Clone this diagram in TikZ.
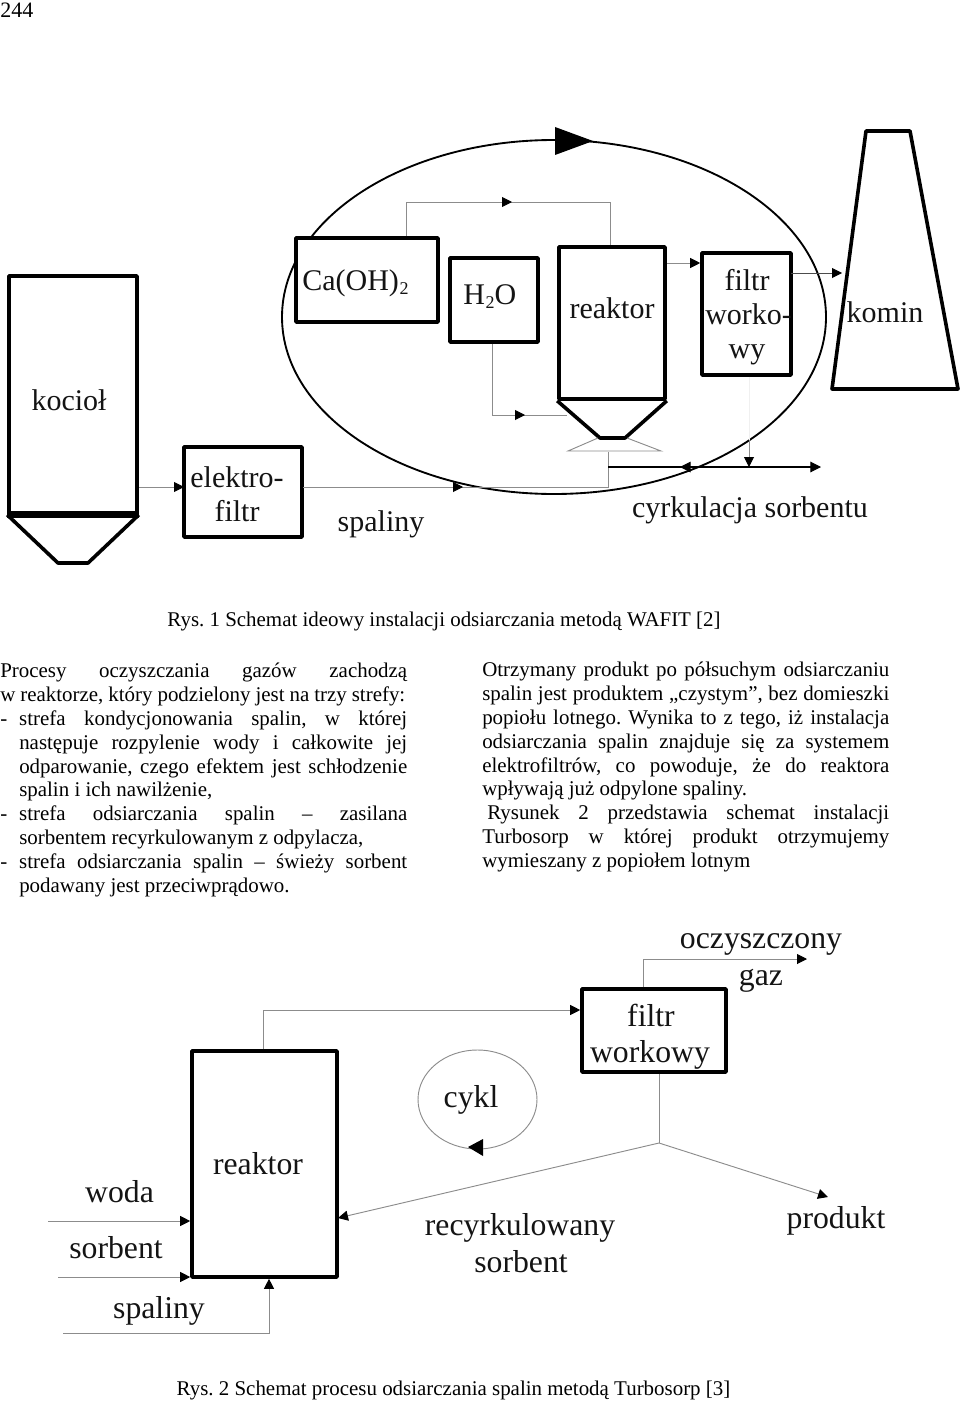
\documentclass[tikz,border=0pt]{standalone}
\usepackage{fontspec}
\setmainfont{Liberation Serif}
\usetikzlibrary{arrows.meta,fit,shapes.geometric}
\newcommand{\bigfont}{\fontsize{22.5}{27}\selectfont}
\newcommand{\largefont}{\fontsize{23.8}{28}\selectfont}
\newcommand{\bodyfont}{\fontsize{15.7}{18}\selectfont\frenchspacing}
\newcommand{\subtwo}{\hspace{0.6pt}\raisebox{-3pt}{\fontsize{13.5}{14}\selectfont 2}}
% justified line of text: name, left x, baseline y, width in px, text
\newcommand{\jline}[5]{\node[bodytext,anchor=base west] (#1) at (#2,#3) {\makebox[\dimexpr#4pt*3/4\relax][s]{#5}};}
\newcommand{\pline}[4]{\node[bodytext,anchor=base west] (#1) at (#2,#3) {#4};}
\newcommand{\dashgap}{-\hspace{9pt}}
\tikzset{
  heavy/.style={draw=black,line width=2.7pt,line join=round},
  heavybox/.style={heavy,fill=white,rectangle,inner sep=0pt},
  conn/.style={draw=black!45,line width=0.7pt},
  conntip/.style={conn,-{Triangle[length=7.5pt,width=7.5pt,fill=black,color=black]}},
  darkconn/.style={draw=black,line width=0.8pt},
  darktip/.style={darkconn,-{Triangle[length=8pt,width=8pt]}},
  bigtext/.style={font=\bigfont,inner sep=0pt,text=black!92},
  largetext/.style={font=\largefont,inner sep=0pt,text=black!92},
  bodytext/.style={font=\bodyfont,inner sep=0pt,text=black},
}
\begin{document}
\begin{tikzpicture}[x=0.75pt,y=-0.75pt]
\useasboundingbox (0,0) rectangle (960,1402);
\node[font=\fontsize{16.5}{20}\selectfont,inner sep=0pt,anchor=base west] (page) at (0,18) {244};

% ===== Figure 1 =====
\node[draw=black,line width=1.4pt,ellipse,inner sep=0pt,minimum width=408pt,minimum height=265.5pt] (loop) at (554,317) {};
\coordinate (topA) at (555,127); \coordinate (topB) at (555,155); \coordinate (topC) at (593,141);
\fill (topA) -- (topC) -- (topB) -- cycle;

\node[heavybox,fit={(9,276)(137,513)}] (kociol) {};
\node[heavybox,fit={(184,447)(302,537)}] (elektro) {};
\node[heavybox,fit={(296,238)(438,322)}] (caoh) {};
\node[heavybox,fit={(450,258)(538,342)}] (hto) {};
\node[heavybox,fit={(559,247)(665,399)}] (reak) {};
\node[heavybox,fit={(702,253)(791,375)}] (filtr) {};

% hoppers and chimney
\draw[heavy,line width=4.5pt] (kociol.south west) -- (kociol.south east);
\coordinate (kh1) at (58,563); \coordinate (kh2) at (88,563);
\draw[heavy] (kociol.south west) -- (kh1) -- (kh2) -- (kociol.south east);
\coordinate (rh1) at (600,438); \coordinate (rh2) at (625,438);
\draw[heavy] (reak.south west) -- (rh1) -- (rh2) -- (reak.south east);
\coordinate (kn1) at (866,131); \coordinate (kn2) at (910,131);
\coordinate (kn3) at (958,389); \coordinate (kn4) at (832,389);
\draw[heavy] (kn1) -- (kn2) -- (kn3) -- (kn4) -- cycle;

% thin connectors of figure 1
\coordinate (c1) at (139,487); \coordinate (c2) at (184,487);
\draw[conntip] (c1) -- (c2);
\coordinate (c3) at (303,487); \coordinate (c4) at (463,487); \coordinate (c5) at (608,487); \coordinate (c6) at (608,452);
\draw[conn] (c3) -- (c5) -- (c6);
\draw[conntip] (c3) -- (c4);
\coordinate (d1) at (406,202); \coordinate (d2) at (512,202); \coordinate (d3) at (610,202);
\draw[conn] (caoh.north -| d1) -- (d1) -- (d3) -- (reak.north -| d3);
\draw[conntip] (d1) -- (d2);
\coordinate (e1) at (492,415); \coordinate (e2) at (525,415); \coordinate (e3) at (567,415);
\draw[conn] (hto.south -| e1) -- (e1) -- (e3);
\draw[conntip] (e1) -- (e2);
\coordinate (f1) at (667,263);
\draw[conntip] (f1) -- (filtr.west |- f1);
\coordinate (g1) at (791,273); \coordinate (g2) at (842,273);
\draw[conntip,draw=black!70] (g1) -- (g2);
\coordinate (t1) at (568,451); \coordinate (t2) at (661,451); \coordinate (t3) at (627,438); \coordinate (t4) at (598,438);
\draw[conn] (t4) -- (t1) -- (t2) -- (t3);
\coordinate (h1) at (608,467); \coordinate (h2) at (821,467); \coordinate (h3) at (680,467); \coordinate (h4) at (700,467);
\draw[darktip] (h1) -- (h2);
\draw[darktip] (h4) -- (h3);
\coordinate (i1) at (749,440); \coordinate (i2) at (749,467);
\draw[draw=black!6,line width=0.7pt] (filtr.south -| i1) -- (i1);
\draw[conntip] (i1) -- (i2);

% labels of figure 1
\node[bigtext,anchor=base] (tkociol) at (69,410) {kocioł};
\node[bigtext,anchor=base] (telek1) at (237,487) {elektro-};
\node[bigtext,anchor=base] (telek2) at (237,521) {filtr};
\node[bigtext,anchor=base] (tspal) at (381,531) {spaliny};
\node[bigtext,anchor=base west] (tcaoh) at (302,290) {Ca(OH)\subtwo};
\node[bigtext,anchor=base west] (thto) at (463,304) {H\subtwo O};
\node[bigtext,anchor=base] (treak) at (612,318) {reaktor};
\node[bigtext,anchor=base] (tfil1) at (747,290) {filtr};
\node[bigtext,anchor=base west] (tfil2) at (705,324) {worko-};
\node[bigtext,anchor=base] (tfil3) at (747,358) {wy};
\node[bigtext,anchor=base] (tkomin) at (885,322) {komin};
\node[bigtext,anchor=base] (tcyrk) at (750,517) {cyrkulacja sorbentu};
\node[bodytext,anchor=base] (cap1) at (444,626) {Rys. 1 Schemat ideowy instalacji odsiarczania metodą WAFIT [2]};

% ===== Body text =====
\jline{a1}{0}{677}{407}{Procesy oczyszczania gazów zachodzą}
\jline{a2}{0}{701}{405}{w reaktorze, który podzielony jest na trzy strefy:}
\jline{a3}{0}{725}{407}{\dashgap strefa kondycjonowania spalin, w której}
\jline{a4}{19}{749}{388}{następuje rozpylenie wody i całkowite jej}
\jline{a5}{19}{773}{388}{odparowanie, czego efektem jest schłodzenie}
\pline{a6}{19}{796}{spalin i ich nawilżenie,}
\jline{a7}{0}{820}{407}{\dashgap strefa odsiarczania spalin – zasilana}
\pline{a8}{19}{844}{sorbentem recyrkulowanym z odpylacza,}
\jline{a9}{0}{868}{407}{\dashgap strefa odsiarczania spalin – świeży sorbent}
\pline{a10}{19}{892}{podawany jest przeciwprądowo.}

\jline{b1}{482}{676}{407}{Otrzymany produkt po półsuchym odsiarczaniu}
\jline{b2}{482}{700}{407}{spalin jest produktem „czystym”, bez domieszki}
\jline{b3}{482}{724}{407}{popiołu lotnego. Wynika to z tego, iż instalacja}
\jline{b4}{482}{748}{407}{odsiarczania spalin znajduje się za systemem}
\jline{b5}{482}{772}{407}{elektrofiltrów, co powoduje, że do reaktora}
\pline{b6}{482}{795}{wpływają już odpylone spaliny.}
\jline{b7}{487}{819}{402}{Rysunek 2 przedstawia schemat instalacji}
\jline{b8}{482}{843}{407}{Turbosorp w której produkt otrzymujemy}
\pline{b9}{482}{867}{wymieszany z popiołem lotnym}

% ===== Figure 2 =====
\node[heavybox,fit={(192,1051)(337,1277)}] (reak2) {};
\node[heavybox,fit={(582,989)(726,1072)}] (filtr2) {};
\node[draw=black!45,line width=0.7pt,inner sep=0pt,ellipse,minimum width=89.25pt,minimum height=74.25pt] (cyklring) at (477.5,1099.5) {};

\coordinate (cA) at (468,1147); \coordinate (cB) at (483,1139); \coordinate (cC) at (483,1156);
\fill (cA) -- (cB) -- (cC) -- cycle;

\coordinate (m1) at (263,1010);
\draw[conntip] (reak2.north -| m1) -- (m1) -- (filtr2.west |- m1);
\coordinate (n1) at (643,959); \coordinate (n2) at (807,959);
\draw[conntip] (filtr2.north -| n1) -- (n1) -- (n2);
\coordinate (o1) at (659,1143); \coordinate (o2) at (338,1218); \coordinate (o3) at (828,1197);
\draw[conn] (filtr2.south -| o1) -- (o1);
\draw[conntip] (o1) -- (o2);
\draw[conntip] (o1) -- (o3);
\coordinate (p1) at (48,1221); \coordinate (p2) at (58,1277);
\draw[conntip] (p1) -- (reak2.west |- p1);
\draw[conntip] (p2) -- (reak2.west |- p2);
\coordinate (q1) at (63,1333); \coordinate (q2) at (269,1333);
\draw[conntip] (q1) -- (q2) -- (reak2.south -| q2);

\node[largetext,anchor=base] (woda) at (119.5,1202) {woda};
\node[largetext,anchor=base] (sorb) at (116,1258) {sorbent};
\node[largetext,anchor=base] (spal2) at (159,1318) {spaliny};
\node[largetext,anchor=base] (reakt2) at (258,1174) {reaktor};
\node[largetext,anchor=base] (cykl) at (471,1107) {cykl};
\node[largetext,anchor=base] (fil2a) at (651,1026) {filtr};
\node[largetext,anchor=base] (fil2b) at (650,1062) {workowy};
\node[largetext,anchor=base] (ocz) at (761,948) {oczyszczony};
\node[largetext,anchor=base] (gaz) at (761,985) {gaz};
\node[largetext,anchor=base] (recy) at (520,1235) {recyrkulowany};
\node[largetext,anchor=base] (sorb2) at (521,1272) {sorbent};
\node[largetext,anchor=base] (prod) at (836,1228) {produkt};
\node[bodytext,anchor=base] (cap2) at (453.5,1395) {Rys. 2 Schemat procesu odsiarczania spalin metodą Turbosorp [3]};
\end{tikzpicture}
\end{document}
